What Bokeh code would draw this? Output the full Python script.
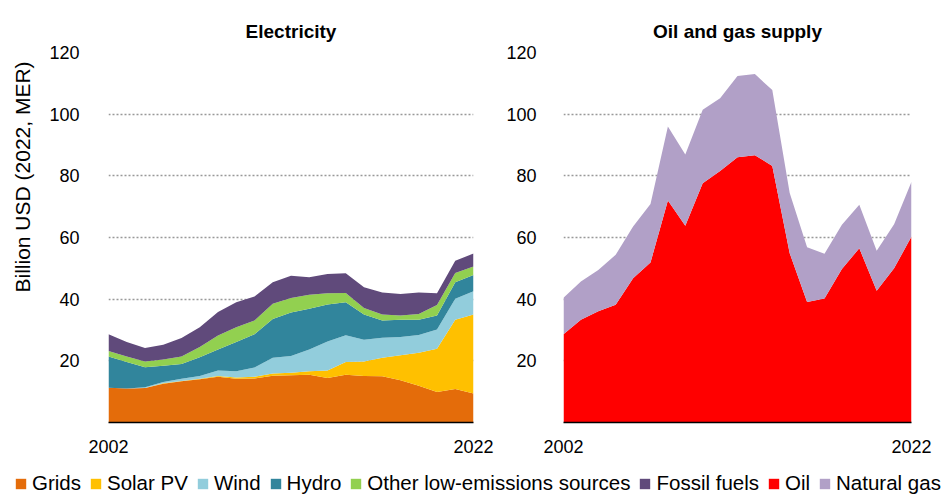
from bokeh.plotting import figure
from bokeh.models import ColumnDataSource, Range1d, FixedTicker, Legend, LegendItem, Title
from bokeh.layouts import column, row
from bokeh.embed import file_html
from bokeh.resources import INLINE

years = list(range(2002, 2023))

# Electricity (billion USD 2022)
grids = [11.3, 11.0, 11.2, 12.6, 13.4, 14.0, 14.8, 14.2, 14.3, 15.2, 15.3,
         15.5, 14.4, 15.5, 15.1, 15.0, 13.7, 11.9, 9.9, 10.9, 9.4]
solar = [0.0, 0.0, 0.0, 0.1, 0.1, 0.2, 0.3, 0.4, 0.5, 0.7, 0.8,
         1.1, 2.5, 4.1, 4.7, 6.0, 8.1, 10.7, 14.0, 22.4, 25.6]
wind = [0.0, 0.0, 0.2, 0.4, 0.7, 0.9, 1.8, 2.0, 3.0, 5.1, 5.5,
        7.1, 9.4, 8.7, 7.0, 6.5, 5.9, 5.8, 6.3, 6.8, 7.6]
hydro = [10.1, 8.6, 6.5, 5.3, 4.8, 6.1, 6.8, 9.5, 10.8, 12.6, 14.1,
         13.2, 12.0, 10.7, 8.2, 5.6, 5.6, 4.9, 4.5, 5.4, 5.2]
other = [1.8, 1.8, 1.9, 2.0, 2.4, 3.3, 4.5, 4.8, 4.5, 4.9, 4.7,
         4.5, 3.6, 3.0, 2.1, 1.9, 1.4, 1.9, 3.4, 3.0, 2.8]
fossil = [5.4, 4.7, 4.4, 4.8, 6.0, 6.4, 7.6, 8.1, 7.8, 7.0, 7.2,
          5.7, 6.3, 6.4, 6.8, 7.2, 7.0, 7.0, 3.8, 4.0, 4.2]

# Oil and gas supply
oil = [28.6, 33.3, 36.1, 38.2, 46.8, 51.9, 72.0, 63.8, 77.6, 81.6, 86.0,
       86.7, 83.2, 54.9, 39.1, 40.2, 49.8, 56.5, 42.7, 50.0, 60.3]
gas = [11.9, 12.4, 13.4, 16.2, 16.8, 19.0, 24.0, 23.1, 23.8, 23.6, 26.4,
       26.3, 24.6, 19.5, 17.7, 14.5, 14.3, 14.1, 13.0, 14.3, 17.8]

elec_keys = ["grids", "solar", "wind", "hydro", "other", "fossil"]
elec_names = ["Grids", "Solar PV", "Wind", "Hydro", "Other low-emissions sources", "Fossil fuels"]
elec_colors = ["#E46C0A", "#FFC000", "#92CDDC", "#31859C", "#92D050", "#604A7B"]
og_keys = ["oil", "gas"]
og_names = ["Oil", "Natural gas"]
og_colors = ["#FF0000", "#B1A0C7"]

y_ticks = [20, 40, 60, 80, 100, 120]
x_ticks = [2002, 2022]
y_title = "Billion USD (2022, MER)"

FONT = "Liberation Sans"
PH = 457


def make_fig(title, width, bl, br, lab_standoff):
    p = figure(width=width, height=PH, x_range=Range1d(2002, 2022), y_range=Range1d(0, 120),
               output_backend="svg", toolbar_location=None,
               min_border_left=bl, min_border_right=br, min_border_top=49, min_border_bottom=38)
    p.title.text = title
    p.title.align = "center"
    p.title.vertical_align = "middle"
    p.title.text_font = FONT
    p.title.text_font_size = "19px"
    p.title.text_font_style = "bold"
    p.title.text_color = "#000000"
    p.title.standoff = 19
    p.outline_line_color = None
    p.background_fill_color = "white"
    p.border_fill_color = "white"
    p.xgrid.visible = False
    p.yaxis.ticker = FixedTicker(ticks=y_ticks)
    p.ygrid.grid_line_color = "#999999"
    p.ygrid.grid_line_dash = "2 2"
    p.ygrid.grid_line_width = 1.5
    p.yaxis.axis_line_color = None
    p.yaxis.major_tick_line_color = None
    p.yaxis.minor_tick_line_color = None
    p.yaxis.major_label_standoff = lab_standoff
    p.yaxis.major_label_text_font = FONT
    p.yaxis.major_label_text_font_size = "18px"
    p.yaxis.major_label_text_color = "#000000"
    p.xaxis.ticker = FixedTicker(ticks=x_ticks)
    p.xaxis.axis_line_color = "#000000"
    p.xaxis.axis_line_width = 1.5
    p.xaxis.major_tick_line_color = None
    p.xaxis.minor_tick_line_color = None
    p.xaxis.major_label_standoff = 11
    p.xaxis.major_label_text_font = FONT
    p.xaxis.major_label_text_font_size = "18px"
    p.xaxis.major_label_text_color = "#000000"
    return p


elec_src = ColumnDataSource(dict(year=years, grids=grids, solar=solar, wind=wind,
                                 hydro=hydro, other=other, fossil=fossil))
og_src = ColumnDataSource(dict(year=years, oil=oil, gas=gas))

# thin grey rule across the top
top = figure(width=948, height=3, output_backend="svg", toolbar_location=None,
             min_border_left=0, min_border_right=0, min_border_top=0, min_border_bottom=0)
top.axis.visible = False
top.grid.visible = False
top.outline_line_color = None
top.background_fill_color = "#A6A6A6"
top.border_fill_color = "#A6A6A6"

p1 = make_fig("Electricity", 500, 106, 27, 23)
p1.varea_stack(stackers=elec_keys, x="year", color=elec_colors, source=elec_src)
p1.add_layout(Title(text=y_title, align="left", offset=130, standoff=21, vertical_align="top",
                    text_font=FONT, text_font_size="21px", text_font_style="normal",
                    text_color="#000000"), "left")

p2 = make_fig("Oil and gas supply", 448, 63, 37, 21)
p2.varea_stack(stackers=og_keys, x="year", color=og_colors, source=og_src)

# Legend strip (areas drawn out of view; only their legend swatches show)
pl = figure(width=948, height=35, x_range=Range1d(0, 1), y_range=Range1d(0, 1),
            output_backend="svg", toolbar_location=None,
            min_border_left=14, min_border_right=0, min_border_top=0, min_border_bottom=0)
pl.axis.visible = False
pl.grid.visible = False
pl.outline_line_color = None
rs = pl.varea_stack(stackers=elec_keys, x="year", color=elec_colors, source=elec_src)
rs += pl.varea_stack(stackers=og_keys, x="year", color=og_colors, source=og_src)
items = [LegendItem(label=n, renderers=[r]) for n, r in zip(elec_names + og_names, rs)]
leg = Legend(items=items, orientation="horizontal", location="bottom_left",
             label_text_font=FONT, label_text_font_size="20.5px", label_text_color="#000000",
             glyph_width=13, glyph_height=13, label_standoff=5, spacing=8,
             padding=0, margin=0, border_line_color=None, background_fill_alpha=0)
pl.add_layout(leg)

layout = column(top, row(p1, p2), pl)
open("out.html", "w").write(file_html(layout, INLINE))
